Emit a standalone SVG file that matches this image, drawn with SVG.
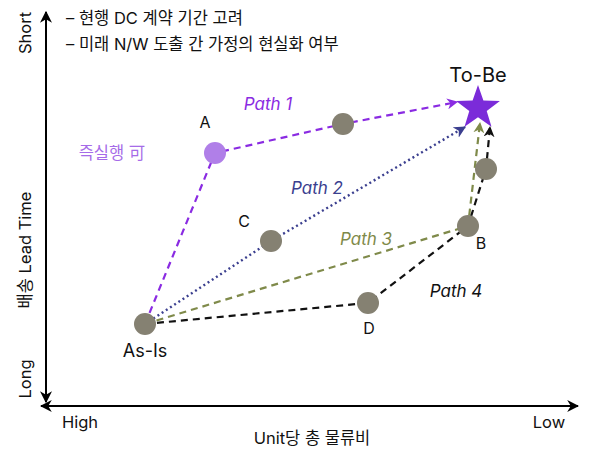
<svg xmlns="http://www.w3.org/2000/svg" width="591" height="454" viewBox="0 0 591 454">
<defs>
<style>
text{font-family:Inter,"Noto Sans CJK KR","Liberation Sans",sans-serif;fill:#111}
.lbl{font-size:18px}
.ax{font-size:16.5px}
.nl{font-size:16px}
.lg{font-size:16.5px}
.pl{font-size:17px;font-style:italic}
.node{fill:#858172}
.edge{fill:none;stroke-width:2.2}
.p1{stroke:#8A2BE2;stroke-dasharray:7 5}
.p2{stroke:#3B3F8F;stroke-dasharray:2 3;stroke-width:2.4}
.p3{stroke:#7F8A4A;stroke-dasharray:7 5}
.p4{stroke:#111;stroke-dasharray:7 5}
.axis{stroke:#000;stroke-width:2;fill:none}
</style>
<marker id="m1" viewBox="0 0 10 10" refX="9" refY="5" markerWidth="5" markerHeight="5" orient="auto" markerUnits="strokeWidth"><path d="M0,0 L10,5 L0,10 L3,5 Z" fill="#8A2BE2"/></marker>
<marker id="m2" viewBox="0 0 10 10" refX="9" refY="5" markerWidth="5" markerHeight="5" orient="auto" markerUnits="strokeWidth"><path d="M0,0 L10,5 L0,10 L3,5 Z" fill="#3B3F8F"/></marker>
<marker id="m3" viewBox="0 0 10 10" refX="9" refY="5" markerWidth="5" markerHeight="5" orient="auto" markerUnits="strokeWidth"><path d="M0,0 L10,5 L0,10 L3,5 Z" fill="#7F8A4A"/></marker>
<marker id="m4" viewBox="0 0 10 10" refX="9" refY="5" markerWidth="5" markerHeight="5" orient="auto" markerUnits="strokeWidth"><path d="M0,0 L10,5 L0,10 L3,5 Z" fill="#111"/></marker>
<marker id="ma" viewBox="0 0 10 10" refX="9" refY="5" markerWidth="6" markerHeight="6" orient="auto-start-reverse" markerUnits="strokeWidth"><path d="M0,0 L10,5 L0,10 L3,5 Z" fill="#000"/></marker>
</defs>

<g id="axes">
<line class="axis" x1="46" y1="12" x2="46" y2="402" marker-start="url(#ma)" marker-end="url(#ma)"/>
<line class="axis" x1="41" y1="406" x2="578" y2="406" marker-start="url(#ma)" marker-end="url(#ma)"/>
<text class="ax" transform="translate(31,33) rotate(-90)" text-anchor="middle">Short</text>
<text class="ax" transform="translate(31,379) rotate(-90)" text-anchor="middle">Long</text>
<text class="ax" transform="translate(31,250) rotate(-90)" text-anchor="middle">배송 Lead Time</text>
<text class="ax" x="80" y="428" text-anchor="middle">High</text>
<text class="ax" x="549" y="428" text-anchor="middle">Low</text>
<text class="ax" x="312" y="444" text-anchor="middle">Unit당 총 물류비</text>
</g>

<g id="legend">
<text class="lg" x="66" y="24">–  현행 DC 계약 기간 고려</text>
<text class="lg" x="66" y="50">–  미래 N/W 도출 간 가정의 현실화 여부</text>
</g>

<g id="connectors">
<polyline class="edge p1" points="145,324 215,153 343,124 457,102" marker-end="url(#m1)"/>
<polyline class="edge p2" points="145,324 271,241 465,127" marker-end="url(#m2)"/>
<polyline class="edge p3" points="145,324 468,226 480,123" marker-end="url(#m3)"/>
<polyline class="edge p4" points="145,324 368,303 468,226 486,169 490,127" marker-end="url(#m4)"/>
</g>

<g id="path-labels">
<text class="pl" x="268" y="110" text-anchor="middle" style="fill:#8A2BE2">Path 1</text>
<text class="pl" x="317" y="194" text-anchor="middle" style="fill:#3B3F8F">Path 2</text>
<text class="pl" x="366" y="245" text-anchor="middle" style="fill:#7F8A4A">Path 3</text>
<text class="pl" x="456" y="297" text-anchor="middle">Path 4</text>
<text x="112" y="159" text-anchor="middle" style="fill:#A66BE8;font-size:16.5px">즉실행 可</text>
</g>

<g id="node-asis">
<circle class="node" cx="145" cy="324" r="11"/>
<text class="lbl" x="145" y="357" text-anchor="middle">As-Is</text>
</g>
<g id="node-a">
<circle cx="215" cy="153" r="11" fill="#B07FE8"/>
<text class="nl" x="205" y="128" text-anchor="middle">A</text>
</g>
<g id="node-p1">
<circle class="node" cx="343" cy="124" r="11"/>
</g>
<g id="node-c">
<circle class="node" cx="271" cy="241" r="11"/>
<text class="nl" x="244" y="227" text-anchor="middle">C</text>
</g>
<g id="node-d">
<circle class="node" cx="368" cy="303" r="11"/>
<text class="nl" x="369" y="334" text-anchor="middle">D</text>
</g>
<g id="node-b">
<circle class="node" cx="468" cy="226" r="11"/>
<text class="nl" x="481" y="249" text-anchor="middle">B</text>
</g>
<g id="node-p4">
<circle class="node" cx="486" cy="169" r="11"/>
</g>
<g id="node-tobe">
<polygon fill="#7B2BD9" points="478,85 483.4,100.6 499.9,100.9 486.7,110.9 491.5,126.7 478,117.3 464.5,126.7 469.3,110.9 456.1,100.9 472.6,100.6"/>
<text x="478" y="82" text-anchor="middle" style="font-size:20px">To-Be</text>
</g>
</svg>
